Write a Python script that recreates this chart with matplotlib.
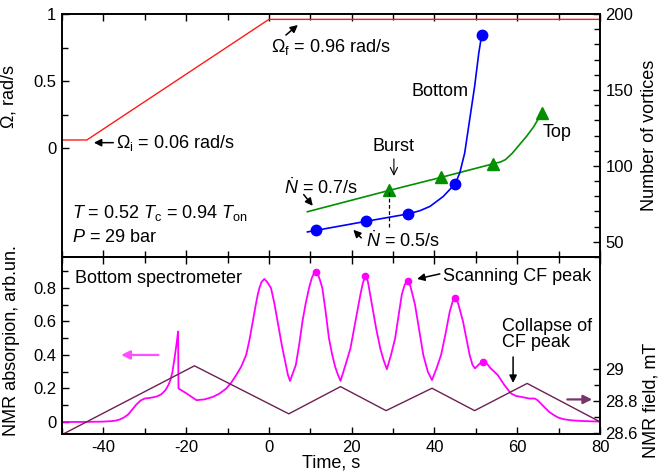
import matplotlib
matplotlib.use("Agg")
import matplotlib.pyplot as plt
from matplotlib.ticker import MultipleLocator, FixedLocator

plt.rcParams['font.family'] = 'Liberation Sans'
plt.rcParams['font.size'] = 13
plt.rcParams['xtick.labelsize'] = 12
plt.rcParams['ytick.labelsize'] = 12
plt.rcParams['axes.unicode_minus'] = False
plt.rcParams['mathtext.fontset'] = 'custom'
plt.rcParams['mathtext.rm'] = 'Liberation Sans'
plt.rcParams['mathtext.it'] = 'Liberation Sans:italic'

# rotation drive: Omega(t)
omega_t = [-50, -44, 0, 80]
omega = [0.06, 0.06, 0.96, 0.96]

# vortex counts, bottom and top spectrometers
bottom_t = [11.3, 23.5, 33.7, 45.0, 51.4]
bottom_n = [57.5, 63.5, 68.4, 88.2, 186]
bottom_fit_t = [9.3, 11.3, 23.5, 33.7, 36.5, 38.9, 42.1, 45.0, 46.1, 47.3, 48.5, 49.7, 50.7, 51.4]
bottom_fit_n = [56.5, 57.5, 63.5, 68.4, 70.5, 73.3, 79.8, 88.2, 95.2, 108.4, 130.3, 152.2, 174.1, 186]

top_t = [29.0, 41.7, 54.1, 65.9]
top_n = [83.8, 92.5, 101.3, 134.7]
top_fit_t = [9.3, 29.0, 41.7, 54.1, 56.0, 57.2, 58.8, 60.5, 62.3, 64.0, 65.9]
top_fit_n = [69.8, 83.8, 92.5, 101.3, 102.6, 104.2, 108.3, 113.8, 119.6, 125.9, 134.7]

burst_t = 29.0

# NMR absorption trace (bottom spectrometer)
nmr_t = [-50, -45, -40, -38, -37, -36, -35, -34, -33, -32, -31, -30, -29, -28, -27, -26, -25,
         -24.3, -23.8, -23.3, -22.7, -22.3, -21.95, -21.85, -19.9, -17.5, -15.5, -13.5, -11.9,
         -10.3, -9.1, -7.9, -6.7, -5.5, -4.7, -3.9, -3.1, -2.7, -2.3, -1.8, -1.1, -0.4, 0.1,
         0.5, 1.3, 2.1, 3.1, 4.1, 4.6, 5.1,
         6.5, 7.3, 8.1, 8.9, 9.7, 10.3, 10.8, 11.3, 11.8, 12.3, 12.9, 13.7, 14.5, 15.3, 16.0,
         16.7, 17.3,
         18.5, 19.7, 20.9, 22.1, 22.7, 23.3, 23.9, 24.9, 25.9, 26.9, 27.7, 28.5,
         29.5, 30.5, 31.3, 32.1, 32.8, 33.5, 34.2, 35.3, 36.3, 37.3, 38.4, 39.4,
         40.5, 41.6, 42.7, 43.7, 44.4, 45.0, 45.7, 46.9, 47.7, 48.5, 49.2, 49.8,
         50.8, 51.7, 52.6, 53.6, 55.3, 56.9, 58.5, 59.7, 60.9, 62.9, 64.2, 64.9, 65.7, 66.5,
         67.7, 68.9, 70.0, 71.3, 73.0, 75.3, 80]
nmr_a = [0, 0, 0.002, 0.005, 0.008, 0.015, 0.027, 0.045, 0.075, 0.105, 0.128, 0.14, 0.143,
         0.147, 0.153, 0.165, 0.19,
         0.22, 0.25, 0.30, 0.40, 0.47, 0.54, 0.20, 0.17, 0.13, 0.135, 0.15, 0.17,
         0.20, 0.235, 0.28, 0.33, 0.40, 0.49, 0.60, 0.71, 0.76, 0.80, 0.835, 0.854, 0.835, 0.815,
         0.80, 0.71, 0.60, 0.46, 0.34, 0.28, 0.245,
         0.34, 0.46, 0.60, 0.71, 0.80, 0.855, 0.885, 0.897, 0.885, 0.85, 0.80, 0.66, 0.50, 0.40,
         0.33, 0.28, 0.245,
         0.34, 0.44, 0.60, 0.76, 0.83, 0.87, 0.84, 0.70, 0.56, 0.44, 0.37, 0.315,
         0.40, 0.50, 0.63, 0.76, 0.82, 0.84, 0.81, 0.70, 0.55, 0.40, 0.30, 0.25,
         0.32, 0.40, 0.53, 0.66, 0.72, 0.74, 0.71, 0.60, 0.50, 0.40, 0.34, 0.32,
         0.345, 0.36, 0.35, 0.32, 0.28, 0.22, 0.17, 0.155, 0.15, 0.14, 0.14, 0.13, 0.11, 0.09,
         0.06, 0.04, 0.025, 0.016, 0.01, 0.006, 0.002]
peak_t = [11.3, 23.3, 33.5, 45.0, 51.7]
peak_a = [0.897, 0.87, 0.84, 0.74, 0.36]

# NMR field sweep
field_t = [-50, -18, 4.8, 17.3, 28.3, 39.4, 49.7, 62.4, 80]
field_b = [28.59, 29.02, 28.72, 28.89, 28.74, 28.88, 28.74, 28.91, 28.67]

fig = plt.figure(figsize=(6.58, 4.74), dpi=100)
W, H = 658, 474
ax1 = fig.add_axes([62 / W, 1 - 257 / H, 538 / W, 243 / H])
ax2 = fig.add_axes([62 / W, 1 - 434 / H, 538 / W, 177 / H])
ax1r = ax1.twinx()
ax2r = ax2.twinx()

magenta = '#ff00ff'
field_col = '#6e1f52'
green = '#009000'

# --- top panel ---
ax1.plot(omega_t, omega, color='#ff1a1a', lw=1.0)
ax1.set_xlim(-50, 80)
ax1.set_ylim(-0.813, 1.0)
ax1.yaxis.set_major_locator(FixedLocator([0, 0.5, 1]))
ax1.yaxis.set_minor_locator(FixedLocator([0.25, 0.75]))
ax1.set_yticklabels(['0', '0.5', '1'])
ax1.set_ylabel(r'$\Omega$, rad/s')
ax1.yaxis.set_label_coords(-0.082, 0.66)
ax1.tick_params(labelbottom=False)

ax1r.plot(top_fit_t, top_fit_n, color=green, lw=1.2)
ax1r.plot(top_t, top_n, '^', color=green, ms=8.5, mec=green)
ax1r.plot(bottom_fit_t, bottom_fit_n, color='#0000ff', lw=1.2)
ax1r.plot(bottom_t, bottom_n, 'o', color='#0000ff', ms=7.5)
ax1r.plot([burst_t, burst_t], [60, 84], 'k--', lw=0.9, dashes=(3, 2))
ax1r.set_ylim(40, 200)
ax1r.yaxis.set_major_locator(MultipleLocator(50))
ax1r.yaxis.set_minor_locator(MultipleLocator(10))
ax1r.set_ylabel('Number of vortices')
ax1r.yaxis.set_label_coords(1.076, 0.5)

arrow = dict(arrowstyle='-|>', color='k', lw=1.1, mutation_scale=11, shrinkA=0, shrinkB=0)
ax1.text(-37, 0.04, r'$\Omega_\mathrm{i}$ = 0.06 rad/s', ha='left', va='center')
ax1.annotate('', xy=(-42.3, 0.04), xytext=(-37.6, 0.04), arrowprops=arrow)
ax1.text(0.5, 0.754, r'$\Omega_\mathrm{f}$ = 0.96 rad/s', ha='left', va='center')
ax1.annotate('', xy=(7.0, 0.918), xytext=(4.1, 0.843), arrowprops=arrow)
ax1.text(0.0186, 0.181, r'$T$ = 0.52 $T_\mathrm{c}$ = 0.94 $T_\mathrm{on}$',
         transform=ax1.transAxes, ha='left', va='center')
ax1.text(0.0186, 0.082, r'$P$ = 29 bar', transform=ax1.transAxes, ha='left', va='center')

ax1r.text(3.6, 85.5, r'$\dot{N}$ = 0.7/s', ha='left', va='center')
ax1r.annotate('', xy=(10.6, 73.7), xytext=(8.4, 81.1), arrowprops=arrow)
ax1r.text(23.5, 50.5, r'$\dot{N}$ = 0.5/s', ha='left', va='center')
ax1r.annotate('', xy=(20.4, 57.9), xytext=(22.3, 52.6), arrowprops=arrow)
ax1r.text(30.2, 112.5, 'Burst', ha='center', va='center')
ax1r.annotate('', xy=(30.2, 93.4), xytext=(30.2, 104.6),
              arrowprops=dict(arrowstyle='->', color='k', lw=0.8, shrinkA=0, shrinkB=0))
ax1r.text(41.3, 148.7, 'Bottom', ha='center', va='center')
ax1r.text(69.6, 121.7, 'Top', ha='center', va='center')

# --- bottom panel ---
ax2.plot(nmr_t, nmr_a, color=magenta, lw=1.3)
ax2.plot(peak_t, peak_a, 'o', color=magenta, ms=4.5)
ax2.set_xlim(-50, 80)
ax2.set_ylim(-0.072, 0.985)
ax2.yaxis.set_minor_locator(MultipleLocator(0.1))
ax2.set_yticks([0, 0.2, 0.4, 0.6, 0.8])
ax2.set_yticklabels(['0', '0.2', '0.4', '0.6', '0.8'])
ax2.set_ylabel('NMR absorpion, arb.un.')
ax2.yaxis.set_label_coords(-0.078, 0.53)
ax2.set_xlabel('Time, s', labelpad=0)

ax2r.plot(field_t, field_b, color=field_col, lw=1.0)
ax2r.set_ylim(28.594, 29.70)
ax2r.yaxis.set_major_locator(FixedLocator([28.6, 28.8, 29.0]))
ax2r.yaxis.set_minor_locator(FixedLocator([28.7, 28.9]))
ax2r.set_yticklabels(['28.6', '28.8', '29'])
fig.text(651 / W, 1 - 400 / H, 'NMR field, mT', rotation=90, ha='center', va='center')

ax2.text(0.024, 0.881, 'Bottom spectrometer', transform=ax2.transAxes, ha='left', va='center')
ax2.annotate('', xy=(-35.7, 0.40), xytext=(-26.7, 0.40),
             arrowprops=dict(arrowstyle='-|>', color='#ff4dff', lw=1.6, mutation_scale=13,
                             shrinkA=0, shrinkB=0))
ax2r.annotate('', xy=(78.1, 28.81), xytext=(72.1, 28.81),
              arrowprops=dict(arrowstyle='-|>', color='#7a3568', lw=1.6, mutation_scale=13,
                              shrinkA=0, shrinkB=0))
ax2.text(42, 0.87, 'Scanning CF peak', ha='left', va='center')
ax2.annotate('', xy=(35.8, 0.854), xytext=(41.3, 0.884), arrowprops=arrow)
ax2.text(56.2, 0.522, 'Collapse of\nCF peak', ha='left', va='center', linespacing=0.95)
ax2.annotate('', xy=(59, 0.233), xytext=(59, 0.388), arrowprops=arrow)

for ax in (ax1, ax2):
    ax.xaxis.set_major_locator(MultipleLocator(20))
    ax.xaxis.set_minor_locator(MultipleLocator(10))
for ax in (ax1, ax2, ax1r, ax2r):
    ax.tick_params(which='both', direction='in', top=True, width=1.0)
    ax.tick_params(which='major', length=5, pad=4)
    ax.tick_params(which='minor', length=4)
    for s in ax.spines.values():
        s.set_linewidth(1.2)
ax1.tick_params(axis='y', right=False)
ax2.tick_params(axis='y', right=False)

fig.savefig('out.png', dpi=100)
